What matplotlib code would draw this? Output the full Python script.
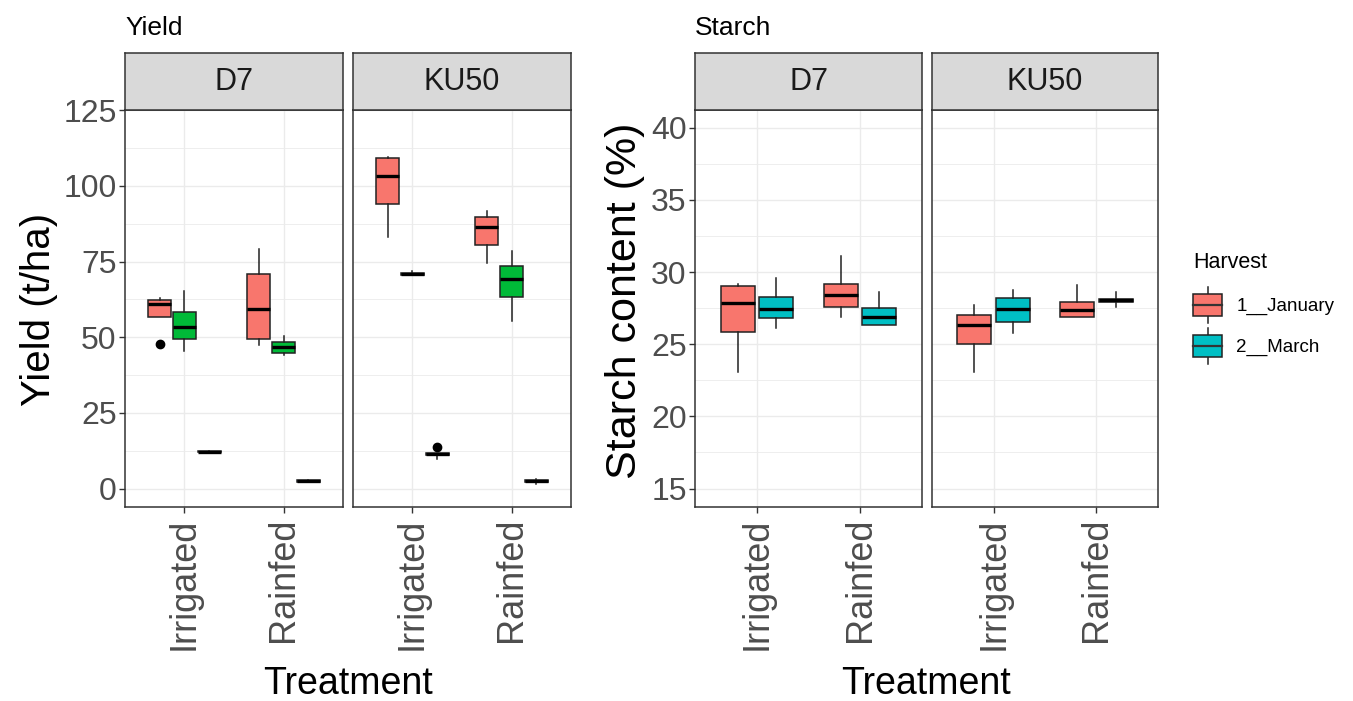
import matplotlib
matplotlib.use("Agg")
import matplotlib.pyplot as plt
from matplotlib.patches import Rectangle, Patch
from matplotlib.lines import Line2D
from matplotlib.legend_handler import HandlerBase

plt.rcParams['font.family'] = ['Liberation Sans', 'DejaVu Sans']

# ---------------- data ----------------
treatments = ["Irrigated", "Rainfed"]
genotypes = ["D7", "KU50"]
harvest_labels = ["1__January", "2__March"]

# Yield: order per genotype = Irrigated h1,h2,h3, Rainfed h1,h2,h3
yield_D7_whislo = [56.7, 45.5, 12.2, 47.4, 44.0, 2.5]
yield_D7_q1 = [56.7, 49.4, 12.0, 49.4, 44.8, 2.3]
yield_D7_med = [60.9, 53.4, 12.2, 59.4, 46.8, 2.5]
yield_D7_q3 = [62.2, 58.3, 12.4, 70.8, 48.3, 2.7]
yield_D7_whishi = [63.0, 65.3, 12.2, 79.3, 50.3, 2.5]
yield_D7_fliers = [[47.7], [], [], [], [], []]

yield_KU50_whislo = [83.1, 70.7, 9.9, 74.6, 55.4, 1.6]
yield_KU50_q1 = [93.9, 70.6, 11.0, 80.6, 63.3, 2.2]
yield_KU50_med = [103.2, 70.9, 11.3, 86.5, 69.1, 2.5]
yield_KU50_q3 = [109.1, 71.1, 11.6, 89.8, 73.5, 2.7]
yield_KU50_whishi = [109.6, 71.9, 11.6, 91.7, 78.4, 3.3]
yield_KU50_fliers = [[], [], [13.7], [], [], []]

# Starch: order per genotype = Irrigated h1,h2, Rainfed h1,h2
starch_D7_whislo = [23.1, 26.1, 26.86, 26.35]
starch_D7_q1 = [25.83, 26.8, 27.6, 26.35]
starch_D7_med = [27.87, 27.46, 28.38, 26.86]
starch_D7_q3 = [29.03, 28.29, 29.16, 27.53]
starch_D7_whishi = [29.2, 29.6, 31.1, 28.6]

starch_KU50_whislo = [23.1, 25.76, 26.9, 27.55]
starch_KU50_q1 = [25.0, 26.52, 26.9, 27.95]
starch_KU50_med = [26.35, 27.46, 27.37, 28.04]
starch_KU50_q3 = [27.05, 28.18, 27.92, 28.12]
starch_KU50_whishi = [27.7, 28.75, 29.1, 28.6]

yield_ticks = [0, 25, 50, 75, 100, 125]
starch_ticks = [15, 20, 25, 30, 35, 40]

yield_colors = ["#F8766D", "#00BA38", "#619CFF"]
starch_colors = ["#F8766D", "#00BFC4"]

# ---------------- layout ----------------
W, H = 1353, 701
fig = plt.figure(figsize=(W / 100, H / 100), dpi=100)
fig.patch.set_facecolor("white")

def fax(x0, y0, x1, y1):
    return fig.add_axes([x0 / W, 1 - y1 / H, (x1 - x0) / W, (y1 - y0) / H])

PANEL_TOP, PANEL_BOT, STRIP_TOP = 110, 507, 53
TICK_COLOR = "#4D4D4D"
BORDER = "#333333"


def style_panel(ax, ylim, yticks, minor, show_y):
    ax.set_xlim(0.4, 2.6)
    ax.set_ylim(*ylim)
    ax.set_yticks(yticks)
    ax.set_yticks(minor, minor=True)
    ax.set_xticks([1, 2])
    ax.set_xticklabels(treatments, rotation=90, fontsize=26, color=TICK_COLOR)
    ax.tick_params(axis='x', which='major', length=4, width=1, color=BORDER, pad=4)
    ax.tick_params(axis='x', which='minor', length=0)
    ax.tick_params(axis='y', which='minor', length=0)
    if show_y:
        ax.tick_params(axis='y', which='major', length=4, width=1, color=BORDER,
                       labelsize=23, labelcolor=TICK_COLOR, pad=2)
    else:
        ax.tick_params(axis='y', which='major', length=0, labelleft=False)
    ax.grid(True, which='major', color='#EBEBEB', lw=1.0)
    ax.grid(True, which='minor', axis='y', color='#EBEBEB', lw=0.6)
    ax.set_axisbelow(True)
    for s in ax.spines.values():
        s.set_color(BORDER)
        s.set_linewidth(1.1)


def strip(x0, x1, label):
    sa = fax(x0, STRIP_TOP, x1, PANEL_TOP)
    sa.set_facecolor('#D9D9D9')
    sa.set_xticks([])
    sa.set_yticks([])
    for s in sa.spines.values():
        s.set_color(BORDER)
        s.set_linewidth(1.1)
    sa.text(0.5, 0.5, label, ha='center', va='center', fontsize=22,
            color='#1A1A1A', transform=sa.transAxes)


def draw_boxes(ax, whislo, q1, med, q3, whishi, fliers, colors, ngroups, dodge, bw):
    stats, pos, cols = [], [], []
    for ti in range(len(treatments)):
        for g in range(ngroups):
            i = ti * ngroups + g
            stats.append(dict(whislo=whislo[i], q1=q1[i], med=med[i], q3=q3[i],
                              whishi=whishi[i], fliers=fliers[i] if fliers else []))
            off = (g - (ngroups - 1) / 2) * dodge
            pos.append(ti + 1 + off)
            cols.append(colors[g])
    bp = ax.bxp(stats, positions=pos, widths=bw, patch_artist=True, showcaps=False,
                manage_ticks=False,
                boxprops=dict(edgecolor='#222222', linewidth=1.1),
                medianprops=dict(color='black', linewidth=2.4, solid_capstyle='butt'),
                whiskerprops=dict(color='#222222', linewidth=1.1),
                flierprops=dict(marker='o', markerfacecolor='black',
                                markeredgecolor='black', markersize=6))
    for patch, c in zip(bp['boxes'], cols):
        patch.set_facecolor(c)


# ---- Yield panels ----
yield_panels = [(125, 343), (353, 571)]
ydata = [
    (yield_D7_whislo, yield_D7_q1, yield_D7_med, yield_D7_q3, yield_D7_whishi, yield_D7_fliers),
    (yield_KU50_whislo, yield_KU50_q1, yield_KU50_med, yield_KU50_q3, yield_KU50_whishi, yield_KU50_fliers),
]
for k, ((x0, x1), d) in enumerate(zip(yield_panels, ydata)):
    ax = fax(x0, PANEL_TOP, x1, PANEL_BOT)
    style_panel(ax, (-6.1, 125.1), yield_ticks,
                [12.5, 37.5, 62.5, 87.5, 112.5], show_y=(k == 0))
    draw_boxes(ax, *d, yield_colors, 3, 0.25, 0.23)
    strip(x0, x1, genotypes[k])

# ---- Starch panels ----
starch_panels = [(695, 922), (932, 1158)]
sdata = [
    (starch_D7_whislo, starch_D7_q1, starch_D7_med, starch_D7_q3, starch_D7_whishi, None),
    (starch_KU50_whislo, starch_KU50_q1, starch_KU50_med, starch_KU50_q3, starch_KU50_whishi, None),
]
for k, ((x0, x1), d) in enumerate(zip(starch_panels, sdata)):
    ax = fax(x0, PANEL_TOP, x1, PANEL_BOT)
    style_panel(ax, (13.72, 41.23), starch_ticks,
                [17.5, 22.5, 27.5, 32.5, 37.5], show_y=(k == 0))
    draw_boxes(ax, *d, starch_colors, 2, 0.375, 0.33)
    strip(x0, x1, genotypes[k])

# ---- titles & axis labels ----
fig.text(125 / W, 1 - 35 / H, "Yield", fontsize=19, va='baseline', ha='left')
fig.text(695 / W, 1 - 35 / H, "Starch", fontsize=19, va='baseline', ha='left')
fig.text(39 / W, 1 - 309 / H, "Yield (t/ha)", fontsize=29, rotation=90,
         ha='center', va='center')
fig.text(625 / W, 1 - 301 / H, "Starch content (%)", fontsize=31, rotation=90,
         ha='center', va='center')
fig.text(348 / W, 1 - 684 / H, "Treatment", fontsize=27, ha='center', va='center')
fig.text(926 / W, 1 - 684 / H, "Treatment", fontsize=27, ha='center', va='center')


# ---- legend ----
class BoxHandler(HandlerBase):
    def create_artists(self, legend, orig_handle, xdescent, ydescent, width,
                       height, fontsize, trans):
        fc = orig_handle.get_facecolor()
        x0, y0 = -xdescent, -ydescent
        bh = height * 0.61
        by = y0 + (height - bh) / 2
        rect = Rectangle((x0, by), width, bh, facecolor=fc, edgecolor='#222222',
                         lw=1.1, transform=trans)
        med = Line2D([x0, x0 + width], [by + bh / 2] * 2, color='#333333', lw=1.6,
                     transform=trans)
        wt = Line2D([x0 + width / 2] * 2, [by + bh, y0 + height],
                    color='#222222', lw=1.1, transform=trans)
        wb = Line2D([x0 + width / 2] * 2, [by, y0],
                    color='#222222', lw=1.1, transform=trans)
        return [wt, wb, rect, med]


handles = [Patch(facecolor=c) for c in starch_colors]
leg = fig.legend(handles, harvest_labels, handler_map={Patch: BoxHandler()},
                 loc='upper left', bbox_to_anchor=(1193 / W, 1 - 252 / H),
                 frameon=False, title="Harvest", title_fontsize=15.5, fontsize=13.5,
                 alignment='left', handlelength=1.55, handleheight=2.58,
                 handletextpad=0.75, labelspacing=0.27, borderpad=0, borderaxespad=0)
leg._legend_box.sep = 10

fig.savefig("out.png", dpi=100, facecolor="white")
